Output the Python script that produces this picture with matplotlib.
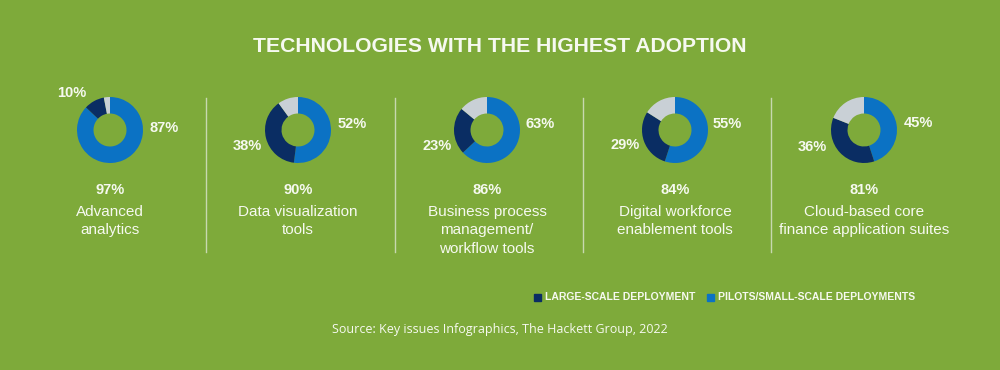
import matplotlib
matplotlib.use("Agg")
import matplotlib.pyplot as plt

title = "TECHNOLOGIES WITH THE HIGHEST ADOPTION"
categories = ["Advanced\nanalytics", "Data visualization\ntools",
              "Business process\nmanagement/\nworkflow tools",
              "Digital workforce\nenablement tools",
              "Cloud-based core\nfinance application suites"]
totals = [97, 90, 86, 84, 81]
large_scale = [10, 38, 23, 29, 36]
pilots = [87, 52, 63, 55, 45]
legend_labels = ["LARGE-SCALE DEPLOYMENT", "PILOTS/SMALL-SCALE DEPLOYMENTS"]
source = "Source: Key issues Infographics, The Hackett Group, 2022"

BG = "#7eaa3a"
BLUE = "#0b72c4"
NAVY = "#0a2d63"
GRAY = "#c9d0d6"
WHITE = "#f6f9f0"

W, H = 1000, 370
fig = plt.figure(figsize=(10, 3.7), dpi=100, facecolor=BG)

def fx(x):
    return x / W

def fy(y):
    return 1 - y / H

cond = ["Liberation Sans Narrow", "Liberation Sans", "DejaVu Sans"]
reg = ["Liberation Sans", "DejaVu Sans"]

fig.text(fx(500), fy(47), title, ha="center", va="center", color=WHITE,
         fontsize=15.2, fontweight="bold", family=cond)

centers = [110, 298, 487, 675, 864]
cy = 130
R = 33
S = 84
# label positions (left label for large-scale, right label for pilots)
left_pos = [(72, 93), (247, 146), (437, 146), (625, 145), (812, 147)]
right_pos = [(164, 128), (352, 124), (540, 124), (727, 124), (918, 123)]

for i, cx in enumerate(centers):
    ax = fig.add_axes([fx(cx - S / 2), fy(cy + S / 2), S / W, S / H])
    rest = 100 - large_scale[i] - pilots[i]
    ax.pie([pilots[i], large_scale[i], rest], colors=[BLUE, NAVY, GRAY],
           startangle=90, counterclock=False, radius=1,
           wedgeprops=dict(width=0.5, edgecolor="none"))
    lim = S / (2 * R)
    ax.set_xlim(-lim, lim)
    ax.set_ylim(-lim, lim)
    ax.set_aspect("equal")
    ax.axis("off")

    lx, ly = left_pos[i]
    fig.text(fx(lx), fy(ly), f"{large_scale[i]}%", ha="center", va="center",
             color=WHITE, fontsize=10.5, fontweight="bold", family=reg)
    rx, ry = right_pos[i]
    fig.text(fx(rx), fy(ry), f"{pilots[i]}%", ha="center", va="center",
             color=WHITE, fontsize=10.5, fontweight="bold", family=reg)

    fig.text(fx(cx), fy(190), f"{totals[i]}%", ha="center", va="center",
             color=WHITE, fontsize=10.5, fontweight="bold", family=reg)
    fig.text(fx(cx), fy(205), categories[i], ha="center", va="top",
             color=WHITE, fontsize=11, family=reg, linespacing=1.4)

for x in [206, 395, 583, 771]:
    fig.add_artist(plt.Line2D([fx(x), fx(x)], [fy(98), fy(252)],
                              color="#c8d8b0", lw=1))

# legend
fig.patches.append(plt.Rectangle((fx(534), fy(301)), 7 / W, 7 / H,
                                 transform=fig.transFigure, color=NAVY))
fig.text(fx(545), fy(297), legend_labels[0], ha="left", va="center",
         color=WHITE, fontsize=7.5, fontweight="bold", family=reg)
fig.patches.append(plt.Rectangle((fx(707), fy(301)), 7 / W, 7 / H,
                                 transform=fig.transFigure, color=BLUE))
fig.text(fx(718), fy(297), legend_labels[1], ha="left", va="center",
         color=WHITE, fontsize=7.5, fontweight="bold", family=reg)

fig.text(fx(500), fy(330), source, ha="center", va="center", color=WHITE,
         fontsize=9, family=["Open Sans", "DejaVu Sans"])

fig.savefig("out.png", dpi=100, facecolor=BG)
